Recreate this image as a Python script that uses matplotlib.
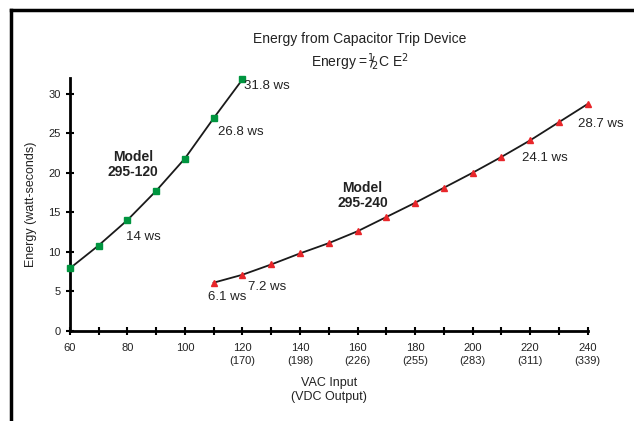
import matplotlib
matplotlib.use("Agg")
import matplotlib.pyplot as plt
from matplotlib.lines import Line2D

plt.rcParams['font.family'] = ['Liberation Sans', 'DejaVu Sans']

# Data
vac_120 = [60, 70, 80, 90, 100, 110, 120]
energy_120 = [7.9, 10.8, 14.0, 17.7, 21.8, 26.9, 31.8]

vac_240 = [110, 120, 130, 140, 150, 160, 170, 180, 190, 200, 210, 220, 230, 240]
energy_240 = [6.1, 7.1, 8.4, 9.8, 11.1, 12.6, 14.4, 16.2, 18.1, 20.0, 22.0, 24.1, 26.4, 28.7]

xtick_pos = [60, 80, 100, 120, 140, 160, 180, 200, 220, 240]
xtick_labels = ["60", "80", "100", "120\n(170)", "140\n(198)", "160\n(226)",
                "180\n(255)", "200\n(283)", "220\n(311)", "240\n(339)"]

fig = plt.figure(figsize=(6.34, 4.21), dpi=100)
ax = fig.add_axes([0.110, 0.214, 0.817, 0.601])

# Curves
ax.plot(vac_120, energy_120, color='#1a1a1a', lw=1.3, zorder=2)
ax.plot(vac_120, energy_120, ls='none', marker='s', ms=4.8, color='#00953f', zorder=3, clip_on=False)
ax.plot(vac_240, energy_240, color='#1a1a1a', lw=1.3, zorder=2)
ax.plot(vac_240, energy_240, ls='none', marker='^', ms=4.2, color='#e8262a', zorder=3, clip_on=False)

ax.set_xlim(60, 240)
ax.set_ylim(0, 32)

# Axes styling
for s in ['top', 'right']:
    ax.spines[s].set_visible(False)
for s in ['left', 'bottom']:
    ax.spines[s].set_linewidth(2)
ax.set_xticks(xtick_pos)
ax.set_xticklabels(xtick_labels, fontsize=8, color='#222222', linespacing=1.35)
ax.set_xticks(range(70, 240, 20), minor=True)
ax.set_yticks([0, 5, 10, 15, 20, 25, 30])
ax.tick_params(axis='y', labelsize=8, labelcolor='#222222')
ax.tick_params(which='both', direction='inout', length=6, width=1.5)
ax.tick_params(axis='x', pad=6)

ax.set_xlabel("VAC Input\n(VDC Output)", fontsize=9, color='#222222', labelpad=8)
ax.set_ylabel("Energy (watt-seconds)", fontsize=9, color='#222222', labelpad=8)

# Annotations
txt = dict(fontsize=9.5, color='#222222', va='center')
ax.text(120.5, 31.0, "31.8 ws", **txt)
ax.text(111.4, 25.2, "26.8 ws", **txt)
ax.text(79.5, 11.9, "14 ws", **txt)
ax.text(108.0, 4.25, "6.1 ws", **txt)
ax.text(121.9, 5.6, "7.2 ws", **txt)
ax.text(217.0, 21.9, "24.1 ws", **txt)
ax.text(236.5, 26.2, "28.7 ws", **txt)
ax.text(81.9, 21.0, "Model\n295-120", fontsize=10, fontweight='bold', color='#222222',
        ha='center', va='center', linespacing=1.1)
ax.text(161.8, 17.1, "Model\n295-240", fontsize=10, fontweight='bold', color='#222222',
        ha='center', va='center', linespacing=1.1)

# Title
fig.text(0.568, 0.907, "Energy from Capacitor Trip Device", fontsize=10, color='#222222',
         ha='center', va='center')
fig.text(0.568, 0.853, r"Energy =$^1\!\!/\!_2$C E$^2$", fontsize=10, color='#222222',
         ha='center', va='center')

# Frame lines (top and left)
fig.add_artist(Line2D([0.017, 1.0], [0.976, 0.976], color='black', lw=2.5, transform=fig.transFigure))
fig.add_artist(Line2D([0.017, 0.017], [0.0, 0.976], color='black', lw=2.5, transform=fig.transFigure))

fig.savefig("out.png", dpi=100)
